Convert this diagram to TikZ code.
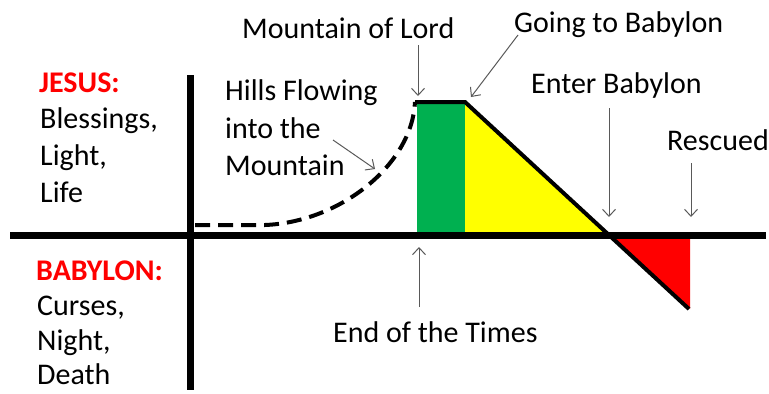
\documentclass[tikz,border=0pt]{standalone}
\usepackage{fontspec}
\setmainfont{Carlito}
\usetikzlibrary{arrows.meta}
\definecolor{arrowgray}{HTML}{595959}
\definecolor{mgreen}{HTML}{00B050}
\definecolor{myellow}{HTML}{FFFF00}
\definecolor{mred}{HTML}{FF0000}
\begin{document}
\begin{tikzpicture}[x=1bp,y=-1bp,
  lbl/.style={anchor=base west, inner sep=0pt, font=\fontsize{30bp}{37bp}\selectfont},
  redlbl/.style={anchor=base west, inner sep=0pt, text=mred, font=\fontsize{30bp}{37bp}\selectfont\bfseries},
  pointer/.style={draw=arrowgray, line width=1bp, -{Straight Barb[length=7bp,width=13bp]}},
  axisline/.style={line width=7bp},
  profile/.style={line width=4bp},
  ]
\useasboundingbox (0,0) rectangle (769,393);
% filled regions
\fill[mgreen] (417,104) rectangle (465,233);
\fill[myellow] (465,102) -- (608,235) -- (465,235) -- cycle;
\fill[mred] (608,235) -- (690,235) -- (690,309) -- cycle;
% profile lines
\draw[profile, line cap=butt] (415,102) -- (465,102) -- (689,309);
\draw[profile, dash pattern=on 15bp off 8bp] (195,225) -- (265,225) .. controls (340,222) and (412,165) .. (415,102);
% axes
\draw[axisline] (10,235) -- (766,235);
\draw[axisline] (190,75) -- (190,390);
% labels
\node[redlbl] (jesus) at (39,92) {JESUS:};
\node[lbl] (bless) at (40,128) {Blessings,};
\node[lbl] (light) at (40,165) {Light,};
\node[lbl] (life) at (40,202) {Life};
\node[redlbl] (babylon) at (36,280) {BABYLON:};
\node[lbl] (curses) at (37,315) {Curses,};
\node[lbl] (night) at (37,350) {Night,};
\node[lbl, text depth=0pt] (death) at (37,384) {Death};
\node[lbl] (hills1) at (225,100) {Hills Flowing};
\node[lbl] (hills2) at (225,138) {into the};
\node[lbl] (hills3) at (225,175) {Mountain};
\node[lbl] (mlord) at (242,38) {Mountain of Lord};
\node[lbl] (going) at (514,32) {Going to Babylon};
\node[lbl] (enter) at (531,93) {Enter Babylon};
\node[lbl] (rescued) at (667,150) {Rescued};
\node[lbl] (endt) at (333,342) {End of the Times};
% pointer coordinates
\coordinate (mlordS) at (418,45);
\coordinate (mlordE) at (418,96);
\coordinate (goingS) at (518,35);
\coordinate (goingE) at (471,97);
\coordinate (enterS) at (609,108);
\coordinate (enterE) at (609,217);
\coordinate (rescS) at (691,163);
\coordinate (rescE) at (691,217);
\coordinate (endS) at (419,307);
\coordinate (endE) at (419,247);
\coordinate (hillsS) at (333,140);
\coordinate (hillsE) at (375,169);
\draw[pointer] (mlordS) -- (mlordE);
\draw[pointer] (goingS) -- (goingE);
\draw[pointer] (enterS) -- (enterE);
\draw[pointer] (rescS) -- (rescE);
\draw[pointer] (endS) -- (endE);
\draw[pointer] (hillsS) -- (hillsE);
\end{tikzpicture}
\end{document}
